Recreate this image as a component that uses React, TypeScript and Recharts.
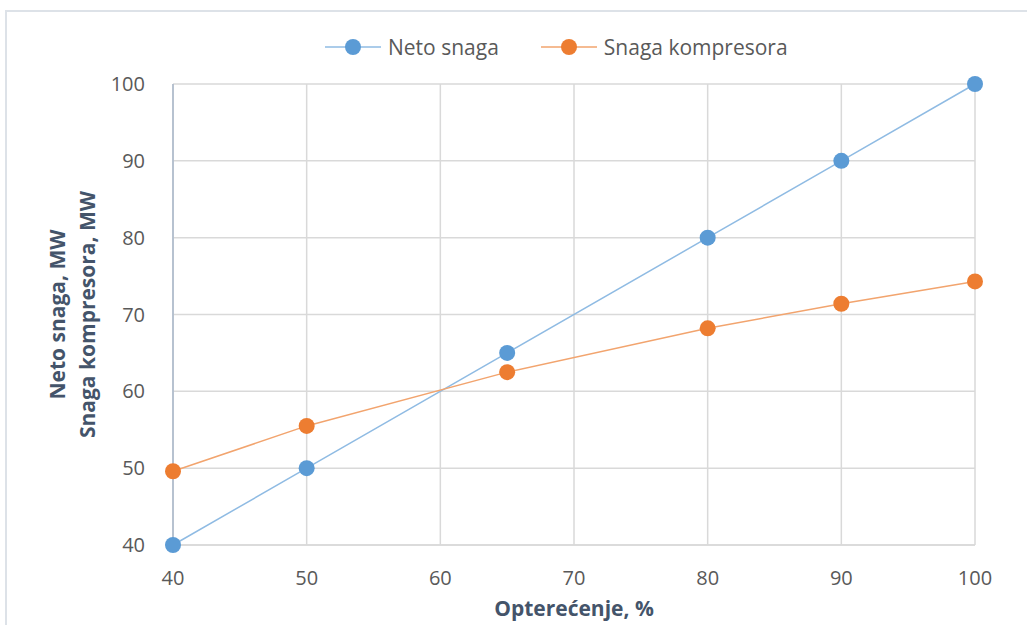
import React from "react";
import {
  CartesianGrid,
  Label,
  Line,
  LineChart,
  XAxis,
  YAxis,
} from "recharts";

const loads = [40, 50, 65, 80, 90, 100];
const netPower = [40, 50, 65, 80, 90, 100];
const compressorPower = [49.6, 55.5, 62.5, 68.2, 71.4, 74.3];
const xTicks = [40, 50, 60, 70, 80, 90, 100];
const yTicks = [40, 50, 60, 70, 80, 90, 100];

const data = loads.map((load, i) => ({
  load,
  net: netPower[i],
  comp: compressorPower[i],
}));

const FONT = "'Open Sans', 'Noto Sans', sans-serif";
const TEXT = "#595959";
const TITLE = "#44546a";
const BLUE = "#5b9bd5";
const ORANGE = "#ed7d31";

function LegendBox() {
  const item = (color: string, line: string, text: string, gap: number) => (
    <div style={{ display: "flex", alignItems: "center", marginRight: gap }}>
      <svg width={56} height={20}>
        <line x1={0} y1={10} x2={56} y2={10} stroke={line} strokeWidth={1.5} />
        <circle cx={28} cy={10} r={8} fill={color} />
      </svg>
      <span style={{ marginLeft: 7, fontSize: 21, color: TEXT, fontFamily: FONT, lineHeight: "20px" }}>
        {text}
      </span>
    </div>
  );
  return (
    <div
      style={{
        position: "absolute",
        left: 325,
        top: 37,
        display: "flex",
        alignItems: "center",
      }}
    >
      {item(BLUE, "#8fbbe3", "Neto snaga", 42)}
      {item(ORANGE, "#f2a46e", "Snaga kompresora", 0)}
    </div>
  );
}

function YTitle(props: any) {
  const { viewBox } = props;
  const cy = viewBox.y + viewBox.height / 2;
  const line = (x: number, text: string) => (
    <text
      x={x}
      y={cy}
      transform={`rotate(-90, ${x}, ${cy})`}
      textAnchor="middle"
      fill={TITLE}
      fontSize={21}
      fontWeight={700}
      fontFamily={FONT}
      dominantBaseline="central"
    >
      {text}
    </text>
  );
  return (
    <g>
      {line(57, "Neto snaga, MW")}
      {line(87, "Snaga kompresora, MW")}
    </g>
  );
}

export default function App() {
  return (
    <div
      style={{
        position: "absolute",
        left: 0,
        top: 0,
        width: 1027,
        height: 625,
        background: "#fff",
        overflow: "hidden",
      }}
    >
      <div
        style={{
          position: "absolute",
          left: 5,
          top: 10,
          width: 1040,
          height: 640,
          border: "2px solid #dde2e8",
        }}
      />
      <LineChart
        width={1027}
        height={625}
        data={data}
        margin={{ top: 84, right: 52, bottom: 0, left: 0 }}
        style={{ position: "absolute", left: 0, top: 0 }}
      >
        <CartesianGrid stroke="#d9d9d9" strokeWidth={1.5} />
        <XAxis
          dataKey="load"
          type="number"
          domain={[40, 100]}
          ticks={xTicks}
          height={80}
          tickLine={false}
          axisLine={{ stroke: "#d9d9d9", strokeWidth: 1.5 }}
          tick={{ fill: TEXT, fontSize: 20, fontFamily: FONT }}
          tickMargin={20}
        >
          <Label
            value="Opterećenje, %"
            position="insideBottom"
            offset={9}
            fill={TITLE}
            fontSize={21}
            fontWeight={700}
            fontFamily={FONT}
          />
        </XAxis>
        <YAxis
          type="number"
          domain={[40, 100]}
          ticks={yTicks}
          width={173}
          tickLine={false}
          axisLine={{ stroke: "#a9b7ca", strokeWidth: 1.5 }}
          tick={{ fill: TEXT, fontSize: 20, fontFamily: FONT }}
          tickMargin={22}
        >
          <Label content={<YTitle />} />
        </YAxis>
        <Line
          dataKey="net"
          name="Neto snaga"
          stroke="#8fbbe3"
          strokeWidth={1.5}
          dot={{ r: 8, fill: BLUE, stroke: "none" }}
          isAnimationActive={false}
        />
        <Line
          dataKey="comp"
          name="Snaga kompresora"
          stroke="#f2a46e"
          strokeWidth={1.5}
          dot={{ r: 8, fill: ORANGE, stroke: "none" }}
          isAnimationActive={false}
        />
      </LineChart>
      <LegendBox />
    </div>
  );
}
